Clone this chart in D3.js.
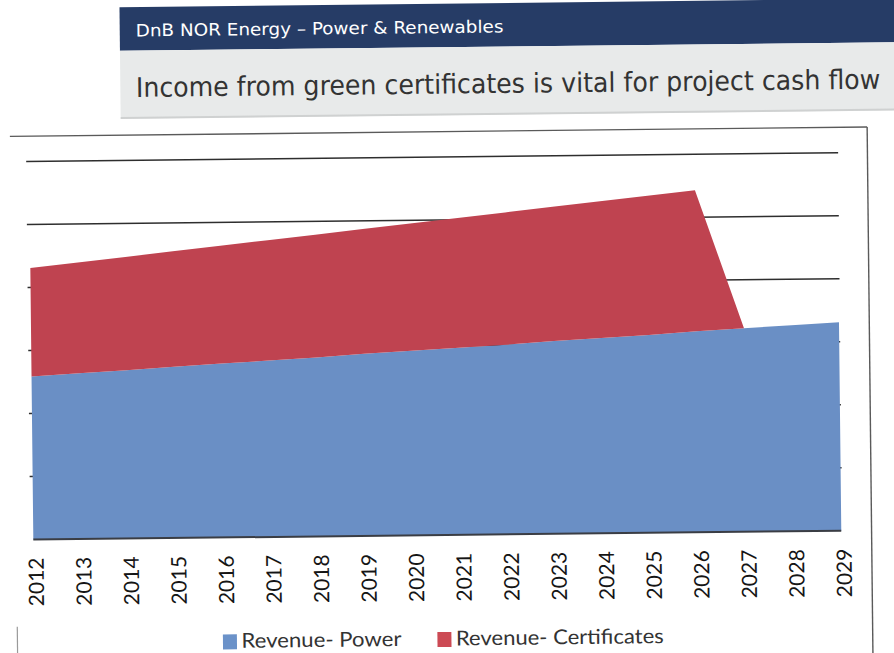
<!DOCTYPE html>
<html>
<head>
<meta charset="utf-8">
<script src="https://cdn.jsdelivr.net/npm/d3@7"></script>
<style>
  html, body { margin: 0; padding: 0; background: #fff; }
  svg { display: block; }
</style>
</head>
<body>
<svg id="chart" width="894" height="653"></svg>
<script>
// Years on the category axis
const years = [2012, 2013, 2014, 2015, 2016, 2017, 2018, 2019, 2020,
               2021, 2022, 2023, 2024, 2025, 2026, 2027, 2028, 2029];

// Revenue from power sales (stacked bottom series)
const revenuePower = [2.59, 2.63, 2.67, 2.72, 2.76, 2.80, 2.84, 2.89, 2.93,
                      2.97, 3.01, 3.06, 3.10, 3.14, 3.19, 3.23, 3.27, 3.31];

// Revenue from green certificates (stacked on top, ends after 2026)
const revenueCertificates = [1.72, 1.76, 1.80, 1.83, 1.87, 1.91, 1.95, 1.98, 2.02,
                             2.06, 2.10, 2.13, 2.17, 2.21, 2.24, 0, 0, 0];

// Value axis gridline steps (unlabelled)
const yTicks = [0, 1, 2, 3, 4, 5, 6];

const seriesNames = ["Revenue- Power", "Revenue- Certificates"];
const seriesKeys = ["power", "certificates"];
const areaColors = ["#6a8fc5", "#bf4350"];
const legendColors = ["#6b92c9", "#cc4a54"];

const headerText = "DnB NOR Energy \u2013 Power & Renewables";
const titleText = "Income from green certificates is vital for project cash flow";

const rows = years.map((y, i) => ({
  year: y,
  power: revenuePower[i],
  certificates: revenueCertificates[i]
}));

const svg = d3.select("#chart");
// the slide sits very slightly rotated on the page
const page = svg.append("g").attr("transform", "rotate(-0.63, 447, 326)");

// squeeze a text horizontally so that it spans the given width
function fitText(sel, x0, y0, width) {
  const natural = sel.node().getComputedTextLength();
  sel.attr("transform", `translate(${x0},${y0}) scale(${width / natural},1)`);
}

// ---- slide header ----
page.append("rect")
  .attr("x", 123).attr("y", 3.6).attr("width", 800).attr("height", 43.6)
  .attr("fill", "#263c66");
const header = page.append("text")
  .attr("font-family", "'DejaVu Sans', Verdana, sans-serif")
  .attr("font-size", 17)
  .attr("fill", "#ffffff")
  .text(headerText);
fitText(header, 139, 33, 368);

const band = page.append("g");
band.append("rect")
  .attr("x", 123).attr("y", 47.2).attr("width", 800).attr("height", 68)
  .attr("fill", "#e8eaea");
band.append("rect")
  .attr("x", 123).attr("y", 113.5).attr("width", 800).attr("height", 2)
  .attr("fill", "#cfd1d1");
const title = page.append("text")
  .attr("font-family", "'DejaVu Sans', Verdana, sans-serif")
  .attr("font-size", 27)
  .attr("fill", "#333333")
  .text(titleText);
fitText(title, 138.5, 93.5, 745);

// ---- chart frame ----
const frame = page.append("g")
  .attr("fill", "none").attr("stroke", "#5a5a5a").attr("stroke-width", 1.4);
frame.append("line").attr("x1", 12).attr("x2", 869.3).attr("y1", 131.6).attr("y2", 131.6);
frame.append("line").attr("x1", 869.3).attr("x2", 869.3).attr("y1", 131.6).attr("y2", 670);
frame.append("line").attr("x1", 14).attr("x2", 14).attr("y1", 622).attr("y2", 670)
  .attr("stroke", "#9a9a9a").attr("stroke-width", 1.2);

// ---- scales ----
const x = d3.scaleLinear().domain([years[0], years[years.length - 1]]).range([31, 839]);
const y = d3.scaleLinear().domain([0, 6]).range([535, 157]);

// gridlines
page.append("g")
  .selectAll("line")
  .data(yTicks.filter(t => t > 0))
  .join("line")
  .attr("x1", x(years[0]) - 3)
  .attr("x2", x(years[years.length - 1]) + 1)
  .attr("y1", d => y(d)).attr("y2", d => y(d))
  .attr("stroke", "#2e2e2e")
  .attr("stroke-width", 1.5);

// ---- stacked areas ----
const stacked = d3.stack().keys(seriesKeys)(rows);
const area = d3.area()
  .x(d => x(d.data.year))
  .y0(d => y(d[0]))
  .y1(d => y(d[1]));

page.append("g")
  .selectAll("path")
  .data(stacked)
  .join("path")
  .attr("d", area)
  .attr("fill", (d, i) => areaColors[i]);

// category axis line
page.append("line")
  .attr("x1", x(years[0])).attr("x2", x(years[years.length - 1]))
  .attr("y1", y(0)).attr("y2", y(0))
  .attr("stroke", "#3a3d44").attr("stroke-width", 2);

// category labels, rotated
page.append("g")
  .selectAll("text")
  .data(years)
  .join("text")
  .attr("transform", d => `translate(${x(d) + 2.5},553) rotate(-90)`)
  .attr("text-anchor", "end")
  .attr("dy", "0.36em")
  .attr("font-family", "Lato, 'Open Sans', sans-serif")
  .attr("font-size", 21)
  .attr("fill", "#151515")
  .text(d => d);

// ---- legend ----
const legendX = [219.5, 434];
const legendW = [160, 208];
const legend = page.append("g");
seriesNames.forEach((name, i) => {
  legend.append("rect")
    .attr("x", legendX[i]).attr("y", 632).attr("width", 14).attr("height", 15)
    .attr("fill", legendColors[i]);
  const label = legend.append("text")
    .attr("font-family", "Lato, 'Open Sans', sans-serif")
    .attr("font-size", 20.5)
    .attr("fill", "#333333")
    .text(name);
  fitText(label, legendX[i] + 18.5, 645.5, legendW[i]);
});
</script>
</body>
</html>
